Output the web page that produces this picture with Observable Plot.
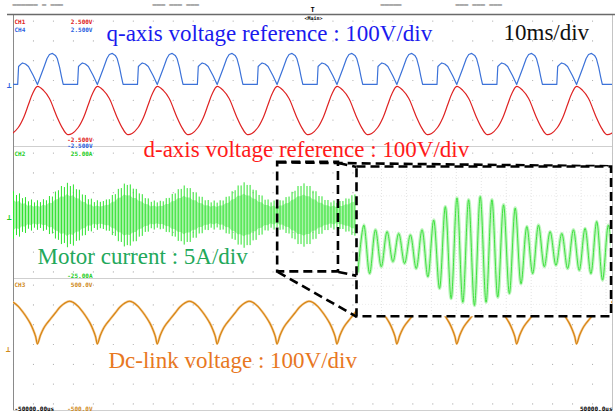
<!DOCTYPE html>
<html><head><meta charset="utf-8">
<script src="https://cdn.jsdelivr.net/npm/d3@7"></script>
<script src="https://cdn.jsdelivr.net/npm/@observablehq/plot@0.6"></script>
<style>
html,body{margin:0;padding:0;background:#fff;}
#wrap{position:relative;width:615px;height:414px;overflow:hidden;background:#fff;}
#wrap svg{position:absolute;left:0;top:0;}
</style></head><body><div id="wrap"></div>
<script>
// ---------------- DATA ----------------
// time base: 10 ms/div, screen = -50 ms .. +50 ms
const timeDomain = [-50, 50];
// start of each 10 ms period (notch of q-ref / peak of d-ref / notch of Vdc)
const periodStarts = [-56, -46, -36, -26, -16, -6, 4, 14, 24, 34, 44];
// CH4 q-axis voltage reference, one period (ms after start, volts)
const qShapeT = [0, 1.0, 1.6, 2.0, 2.5, 3.0, 3.3, 3.7, 4.0, 4.3, 6.7, 6.85, 7.2, 7.5, 8.0, 8.5, 9.3, 10];
const qShapeV = [0, 121, 197, 227, 235, 220, 197, 129, 61, 0, 0, 136, 152, 163, 155, 136, 68, 0];
// CH1 d-axis voltage reference, one period (volts)
const dShapeT = [0, 1, 2, 2.7, 3.3, 4.2, 5, 5.8, 6.8, 7.7, 8.5, 9.2, 10];
const dShapeV = [-15, -45, -106, -182, -250, -333, -379, -371, -326, -250, -152, -68, -15];
// CH3 dc-link voltage, one period (volts)
const dcShapeT = [0, 0.5, 1.0, 1.5, 2.2, 3.0, 3.8, 4.6, 5.3, 6.0, 6.8, 7.5, 8.2, 8.8, 9.3, 9.7, 10];
const dcShapeV = [35, 100, 150, 185, 225, 270, 315, 345, 358, 348, 318, 280, 235, 190, 140, 90, 35];
// CH2 motor current peak amplitude (A), one value every 0.5 ms from -50 ms
const currentStart = -50, currentStep = 0.5;
const currentAmp = [
  9.0,7.6,8.2,6.4,6.8,5.2,5.9,4.8,5.6,4.9,
  6.0,5.6,7.2,7.0,8.9,9.4,11.0,10.6,12.2,11.0,
  11.6,9.8,9.6,7.8,7.6,6.0,6.2,4.9,5.6,5.0,
  5.3,5.9,6.0,7.6,7.9,9.9,10.2,11.9,11.4,11.6,
  10.0,9.9,8.2,7.9,6.4,6.3,5.0,5.5,4.8,5.4,
  5.2,6.4,6.5,8.0,8.2,9.8,9.9,11.2,10.2,10.2,
  8.6,8.6,7.0,6.9,5.6,5.7,4.8,5.5,4.7,5.6,
  5.5,6.9,7.1,9.0,9.4,11.2,11.2,12.4,11.4,11.4,
  9.6,9.4,7.6,7.4,5.8,5.9,4.8,5.5,4.6,5.6,
  5.5,6.8,7.0,8.8,9.2,11.0,11.0,12.0,11.0,11.0,
  9.2,9.0,7.2,7.1,5.7,5.7,4.8,5.5,4.6,5.3,
  5.3,6.3,6.2,7.5,7.8
];
// zoomed motor current (inset): alternating troughs / peaks (A), every half cycle
const zoomWindow = [-6, 4.2];
const zoomStart = -5.94, zoomStep = 0.2333;
const zoomCurrent = [-6.0, 6.9, -6.5, 5.6, -4.6, 5.1, -3.2, 4.6, -3.7, 4.2, -5.1, 5.6, -7.4, 8.3, -10.6, 12.0,
  -13.4, 14.4, -14.4, 13.9, -15.3, 14.8, -14.4, 13.9, -13.0, 12.5, -12.0, 11.6, -9.3, 6.5, -6.5, 6.9,
  -4.6, 5.1, -4.2, 4.6, -5.1, 5.6, -5.6, 6.0, -6.5, 7.9, -8.3, 6.9, -7.0];
// channel settings text
const chLabels = ["CH1", "CH4", "CH2", "CH3"];
const scaleLabels = {ch1: ["2.500V", "-2.500V"], ch4: ["2.500V", "-2.500V"], ch2: ["25.00A", "-25.00A"], ch3: ["500.0V", "-500.0V"]};
const timeLabels = ["-50000.00us", "50000.0us"];
const titles = ["q-axis voltage reference : 100V/div", "10ms/div", "d-axis voltage reference : 100V/div",
  "Motor current : 5A/div", "Dc-link voltage : 100V/div"];

// ---------------- LAYOUT ----------------
const W = 615, H = 414, mL = 13, mR = 3, mT = 14, mB = 4;
// screen = 30 vertical divisions (3 zones of 10); channel zero levels in divisions
const ch = {q: {zero: 24.70, perDiv: 100}, d: {zero: 24.70, perDiv: 100},
            i: {zero: 14.77, perDiv: 5}, dc: {zero: 4.70, perDiv: 100}};
function periodic(shapeT, shapeV, c) {
  const out = [];
  periodStarts.forEach((s, k) => shapeT.forEach((dt, j) => {
    if (k > 0 && j === 0) return;
    out.push({t: s + dt, y: c.zero + shapeV[j] / c.perDiv});
  }));
  return out;
}
const qData = periodic(qShapeT, qShapeV, ch.q);
const dData = periodic(dShapeT, dShapeV, ch.d);
const dcData = periodic(dcShapeT, dcShapeV, ch.dc);
const curData = currentAmp.map((a, k) => ({t: currentStart + k * currentStep, a}));
const zoomData = zoomCurrent.map((v, k) => ({t: zoomStart + k * zoomStep, v}));

// dotted graticule
const gridCols = d3.range(0, 31).map(i => -50 + i * 10 / 3);
const gridRows = [5, 15, 25].flatMap(c => d3.range(-3, 4).map(m => c + 1.5 * m));
const gridPts = d3.cross(gridCols, gridRows).map(([t, y]) => ({t, y}));

// zoom call-out (ms, divisions)
const zoomBox = {x1: -5.9, x2: 4.25, y1: 10.5, y2: 18.8};
const insetBox = {x1: 7.3, x2: 49.8, y1: 7.1, y2: 18.45};
const calloutLinks = [
  {x1: -5.9, y1: 18.8, x2: 49.8, y2: 18.5},
  {x1: 4.25, y1: 18.75, x2: 7.3, y2: 18.45},
  {x1: 4.25, y1: 10.5, x2: 7.3, y2: 10.2},
  {x1: -5.9, y1: 10.5, x2: 7.3, y2: 7.1}
];
const dash = {stroke: "#000", strokeWidth: 2.6, strokeDasharray: "9,5"};

function txt(s, X, B, o = {}) {
  return Plot.text([s], {text: d => d, frameAnchor: "top-left", dx: X - mL, dy: B - mT, lineAnchor: "bottom",
    textAnchor: o.anchor || "start", fill: o.fill || "#000", fontSize: o.size || 6,
    fontFamily: o.family || "DejaVu Sans Mono", fontWeight: o.weight || "bold"});
}
const serif = (s, X, B, fill) => txt(s, X, B, {fill, size: 23, family: "Liberation Serif", weight: "normal"});

const cRed = "#e02020", cBlue = "#2a5ee0", cGreen = "#22cc22", cOrange = "#d08a1a";

const main = Plot.plot({
  width: W, height: H, marginLeft: mL, marginRight: mR, marginTop: mT, marginBottom: mB,
  x: {domain: timeDomain, axis: null},
  y: {domain: [0, 30], axis: null},
  style: {background: "transparent", overflow: "visible"},
  marks: [
    Plot.dot(gridPts, {x: "t", y: "y", r: 0.6, fill: "#a9a9a9", stroke: null}),
    Plot.ruleY([10, 20], {stroke: "#cfcfcf", strokeWidth: 1}),
    Plot.ruleX([-50], {stroke: "#8a8a8a"}),
    Plot.ruleX([50], {stroke: "#c4c4c4"}),
    Plot.ruleY([0], {stroke: "#cfcfcf"}),
    Plot.ruleY([30], {x1: -51, x2: 50.5, stroke: "#6a6a6a", strokeWidth: 1.3}),
    // CH2 motor current
    Plot.areaY(curData, {x: "t", y1: d => ch.i.zero - 0.65 * d.a / ch.i.perDiv, y2: d => ch.i.zero + 0.65 * d.a / ch.i.perDiv, fill: "#a8f3a8", clip: true}),
    Plot.ruleX(curData, {x: "t", y1: d => ch.i.zero - d.a / ch.i.perDiv, y2: d => ch.i.zero + d.a / ch.i.perDiv, stroke: "#2fe22f", strokeWidth: 1, clip: true}),
    // CH3 dc link
    Plot.line(dcData, {x: "t", y: "y", stroke: "#f4c78e", strokeWidth: 2.4, curve: "catmull-rom", clip: true}),
    Plot.line(dcData, {x: "t", y: "y", stroke: "#d4820f", strokeWidth: 1.1, curve: "catmull-rom", clip: true}),
    // CH1 d-axis ref
    Plot.line(dData, {x: "t", y: "y", stroke: "#de2222", strokeWidth: 1.2, curve: "catmull-rom", clip: true}),
    // CH4 q-axis ref
    Plot.line(qData, {x: "t", y: "y", stroke: "#3c72d8", strokeWidth: 1.2, clip: true}),
    // call-out
    Plot.rect([zoomBox], {x1: "x1", x2: "x2", y1: "y1", y2: "y2", fill: "none", ...dash}),
    Plot.link(calloutLinks, {x1: "x1", y1: "y1", x2: "x2", y2: "y2", ...dash}),
    // scope labels
    txt(chLabels[0], 14, 23, {fill: cRed}), txt(scaleLabels.ch1[0], 92, 23, {fill: cRed, anchor: "end"}),
    txt(chLabels[1], 14, 31, {fill: cBlue}), txt(scaleLabels.ch4[0], 92, 31, {fill: cBlue, anchor: "end"}),
    txt(scaleLabels.ch1[1], 92, 141, {fill: cRed, anchor: "end"}),
    txt(scaleLabels.ch4[1], 92, 147, {fill: cBlue, anchor: "end"}),
    txt(chLabels[2], 14, 155, {fill: cGreen}), txt(scaleLabels.ch2[0], 92, 155, {fill: cGreen, anchor: "end"}),
    txt(scaleLabels.ch2[1], 92, 277, {fill: cGreen, anchor: "end"}),
    txt(chLabels[3], 14, 286, {fill: cOrange}), txt(scaleLabels.ch3[0], 92, 286, {fill: cOrange, anchor: "end"}),
    txt(timeLabels[0], 14, 410), txt(scaleLabels.ch3[1], 92, 410, {fill: cOrange, anchor: "end"}),
    txt(timeLabels[1], 612, 410, {anchor: "end"}),
    txt("<Main>", 313, 19.5, {anchor: "middle", size: 5}),
    txt("T", 312, 11, {anchor: "middle", size: 7}),
    txt("▔▔▔▔▔▔ ▔ ▔▔▔", 12, 10, {fill: "#777", size: 7, weight: "normal"}),
    txt("▔▔▔ ▔▔▔ ▔▔▔", 152, 10, {fill: "#777", size: 7, weight: "normal"}),
    txt("▔▔▔▔▔", 380, 10, {fill: "#777", size: 7, weight: "normal"}),
    txt("▔▔▔ ▔▔▔ ▔▔▔", 455, 10, {fill: "#777", size: 7, weight: "normal"}),
    txt("⊥", 9, 87, {fill: cBlue, size: 8, anchor: "middle"}),
    txt("⊥", 9, 219, {fill: cGreen, size: 8, anchor: "middle"}),
    txt("⊥", 8, 351, {fill: cOrange, size: 8, anchor: "middle"}),
    // annotation titles
    serif(titles[0], 106, 40, "#1a1aee"),
    serif(titles[1], 503, 39, "#111"),
    serif(titles[2], 143, 156, "#ff1a1a"),
    serif(titles[3], 37, 263, "#22a85a"),
    serif(titles[4], 108, 367, "#e8781f")
  ]
});
const wrap = document.getElementById("wrap");
wrap.appendChild(main);

// inset (zoomed motor current)
const sx = main.scale("x"), sy = main.scale("y");
const L = sx.apply(insetBox.x1), R = sx.apply(insetBox.x2), T = sy.apply(insetBox.y2), B = sy.apply(insetBox.y1);
const pad = 2;
const inset = Plot.plot({
  width: R - L + 2 * pad, height: B - T + 2 * pad, margin: pad,
  x: {domain: zoomWindow, axis: null},
  y: {domain: [-18.3, 23.1], axis: null},
  style: {background: "transparent", overflow: "visible"},
  marks: [
    Plot.frame({fill: "#fff", stroke: null}),
    Plot.ruleX(d3.range(-5, 5), {stroke: "#e2e2e2", strokeDasharray: "1,2"}),
    Plot.ruleY([-15, -10, -5, 0, 5, 10, 15, 20], {stroke: "#ececec", strokeDasharray: "1,2"}),
    Plot.line(zoomData, {x: "t", y: "v", curve: "catmull-rom", stroke: "#bff5bf", strokeWidth: 3.5, clip: true}),
    Plot.line(zoomData, {x: "t", y: "v", curve: "catmull-rom", stroke: "#3ee03e", strokeWidth: 1, clip: true}),
    Plot.frame(dash)
  ]
});
inset.style.left = (L - pad) + "px";
inset.style.top = (T - pad) + "px";
wrap.appendChild(inset);
</script>
</body></html>
